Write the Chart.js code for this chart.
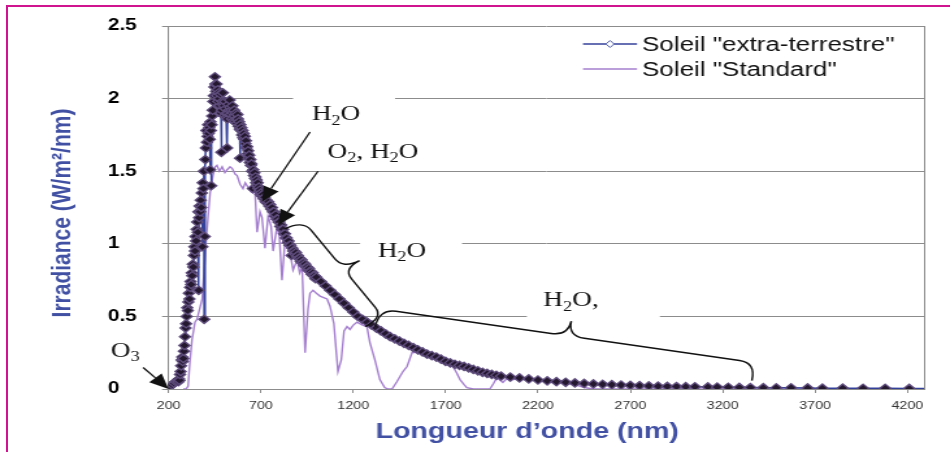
<!DOCTYPE html>
<html>
<head>
<meta charset="utf-8">
<script src="https://cdn.jsdelivr.net/npm/chart.js@4.4.1/dist/chart.umd.min.js"></script>
<style>
  html, body { margin: 0; padding: 0; background: #fff; overflow: hidden; width: 950px; height: 452px; }
  #chart { position: absolute; left: 0; top: 0; transform: scaleX(1.29959); transform-origin: 0 0; }
  #frame { position: absolute; left: 6px; top: 5px; width: 944px; height: 447px;
           border-left: 2px solid #d0138f; border-top: 2px solid #d0138f; }
</style>
</head>
<body>
<canvas id="chart" width="731" height="452"></canvas>
<div id="frame"></div>
<script>
// extraterrestrial spectrum (nm / W/m2/nm)
const etWavelengths = [
  200, 210, 220, 230, 240, 250,
  253, 256, 259, 262, 265, 268, 271, 274, 277, 280,
  283, 286, 289, 292, 295, 298, 301, 304, 307, 310,
  313, 316, 319, 322, 325, 328, 331, 334, 337, 340,
  343, 346, 349, 352, 355, 358, 361, 363, 365, 368,
  371, 374, 377, 380, 383, 385, 388, 391, 393, 396,
  399, 402, 405, 408, 411, 414, 417, 420, 423, 425,
  427, 429, 431, 433, 436, 439, 442, 445, 448, 451,
  454, 457, 460, 463, 466, 469, 472, 475, 478, 481,
  484, 486, 488, 491, 494, 497, 500, 503, 506, 509,
  512, 515, 517, 519, 522, 525, 528, 531, 534, 537,
  540, 543, 546, 549, 552, 555, 558, 561, 564, 567,
  570, 573, 576, 579, 582, 585, 587, 589, 592, 595,
  598, 601, 604, 607, 610, 613, 616, 619, 622, 625,
  628, 631, 634, 637, 640, 643, 646, 649, 652, 656,
  659, 662, 665, 668, 671, 674, 677, 680, 683, 686,
  689, 692, 695, 698, 701, 705, 710, 715, 720, 725,
  730, 735, 740, 745, 750, 755, 760, 765, 770, 775,
  780, 785, 790, 795, 800, 805, 810, 815, 820, 825,
  830, 835, 840, 845, 850, 855, 860, 866, 870, 875,
  880, 885, 890, 895, 900, 905, 910, 915, 920, 925,
  930, 935, 940, 945, 950, 955, 960, 965, 970, 975,
  980, 985, 990, 995,
  1000, 1025, 1050, 1075, 1100, 1125, 1150, 1175, 1200, 1225,
  1250, 1275, 1300, 1325, 1350, 1375, 1400, 1425, 1450, 1475,
  1500, 1525, 1550, 1575, 1600, 1625, 1650, 1675, 1700, 1725,
  1750, 1775, 1800, 1825, 1850, 1875, 1900, 1925, 1950, 1975,
  2000, 2050, 2100, 2150, 2200, 2250, 2300, 2350, 2400, 2450,
  2500, 2550, 2600, 2650, 2700, 2750, 2800, 2850, 2900, 2950,
  3000, 3050, 3120, 3170, 3230, 3290, 3350, 3420, 3490, 3570,
  3660, 3740, 3850, 3960, 4080, 4210, 4350
];
const etIrradiance = [
  0.01, 0.02, 0.03, 0.04, 0.05, 0.06,
  0.05, 0.07, 0.06, 0.10, 0.12, 0.16, 0.20, 0.22, 0.19, 0.21,
  0.26, 0.30, 0.36, 0.42, 0.45, 0.50, 0.56, 0.54, 0.60, 0.66,
  0.62, 0.70, 0.74, 0.72, 0.80, 0.78, 0.86, 0.84, 0.92, 0.98,
  0.95, 1.05, 1.02, 1.10, 1.15, 1.08, 1.22, 0.68, 1.18, 1.26,
  1.22, 1.30, 1.25, 1.35, 0.98, 1.42, 1.38, 1.50, 0.48, 1.05,
  1.58, 1.66, 1.78, 1.70, 1.74, 1.82, 1.76, 1.80, 1.72, 1.51,
  1.84, 1.78, 1.40, 1.82, 1.88, 1.92, 1.98, 2.02, 2.08, 2.15,
  2.10, 2.05, 2.10, 2.02, 2.06, 1.98, 2.04, 2.00, 1.95, 2.03,
  1.90, 1.63, 1.92, 1.98, 2.04, 1.96, 1.95, 1.88, 1.98, 1.93,
  1.87, 1.90, 1.66, 1.86, 1.90, 1.96, 1.92, 1.99, 1.94, 1.89,
  1.92, 1.86, 1.95, 1.90, 1.85, 1.92, 1.88, 1.84, 1.90, 1.86,
  1.83, 1.89, 1.86, 1.81, 1.84, 1.79, 1.59, 1.82, 1.78, 1.80,
  1.75, 1.78, 1.73, 1.76, 1.72, 1.74, 1.69, 1.71, 1.66, 1.67,
  1.62, 1.64, 1.59, 1.61, 1.56, 1.58, 1.54, 1.55, 1.50, 1.38,
  1.51, 1.47, 1.49, 1.45, 1.46, 1.42, 1.44, 1.40, 1.42, 1.38,
  1.39, 1.36, 1.37, 1.34, 1.35, 1.33, 1.34, 1.31, 1.32, 1.29,
  1.30, 1.28, 1.29, 1.26, 1.27, 1.24, 1.25, 1.22, 1.22, 1.19,
  1.20, 1.17, 1.17, 1.15, 1.15, 1.12, 1.13, 1.10, 1.10, 1.07,
  1.07, 1.04, 1.04, 1.01, 1.02, 0.99, 0.99, 0.92, 0.97, 0.95,
  0.95, 0.93, 0.94, 0.91, 0.92, 0.90, 0.90, 0.88, 0.89, 0.87,
  0.87, 0.85, 0.86, 0.84, 0.84, 0.82, 0.83, 0.81, 0.81, 0.79,
  0.80, 0.78, 0.78, 0.76,
  0.77, 0.74, 0.71, 0.68, 0.65, 0.62, 0.59, 0.56, 0.53, 0.50,
  0.48, 0.46, 0.44, 0.42, 0.40, 0.38, 0.36, 0.345, 0.33, 0.315,
  0.30, 0.285, 0.27, 0.255, 0.24, 0.23, 0.22, 0.205, 0.19, 0.18,
  0.17, 0.162, 0.155, 0.145, 0.135, 0.125, 0.115, 0.107, 0.10, 0.094,
  0.088, 0.082, 0.076, 0.069, 0.062, 0.056, 0.050, 0.046, 0.042, 0.038,
  0.035, 0.032, 0.030, 0.027, 0.025, 0.023, 0.021, 0.019, 0.018, 0.017,
  0.016, 0.015, 0.014, 0.013, 0.012, 0.011, 0.010, 0.009, 0.008, 0.008,
  0.007, 0.006, 0.006, 0.005, 0.005, 0.004, 0.004
];

// ground level "standard" spectrum
const stdWavelengths = [
  280, 295, 306, 315, 327, 343, 354, 368, 382, 395,
  405, 414, 425, 440, 452, 462, 475, 490, 505, 517,
  533, 544, 560, 571, 587, 603, 615, 630, 645, 657,
  668, 679, 695, 706, 722, 739, 755, 766, 787, 800,
  814, 831, 847, 860, 874, 896, 910, 923, 939, 955,
  966, 982, 1000, 1020, 1040, 1058, 1074, 1095, 1117, 1135,
  1150, 1166, 1182, 1200, 1220, 1250, 1274, 1290, 1317, 1344,
  1370, 1388, 1410, 1436, 1469, 1491, 1518, 1550, 1575, 1600,
  1625, 1650, 1675, 1700, 1720, 1740, 1760, 1778, 1800, 1815,
  1850, 1900, 1940, 1960, 1978, 1995, 2010, 2030, 2064, 2100,
  2150, 2200, 2250, 2300, 2350, 2400, 2450, 2500, 3000, 4000
];
const stdIrradiance = [
  0, 0, 0.02, 0.18, 0.34, 0.46, 0.48, 0.55, 0.62, 0.86,
  1.05, 1.19, 1.35, 1.47, 1.53, 1.54, 1.50, 1.53, 1.49, 1.51,
  1.53, 1.52, 1.48, 1.47, 1.41, 1.38, 1.42, 1.39, 1.36, 1.35,
  1.36, 1.08, 1.22, 1.18, 0.97, 1.19, 1.12, 0.95, 1.12, 1.05,
  0.75, 1.03, 0.98, 0.92, 0.82, 0.89, 0.80, 0.84, 0.25, 0.55,
  0.66, 0.68, 0.66, 0.64, 0.63, 0.62, 0.57, 0.45, 0.12, 0.20,
  0.40, 0.43, 0.41, 0.44, 0.46, 0.44, 0.43, 0.32, 0.20, 0.065,
  0.01, 0, 0, 0.05, 0.12, 0.155, 0.25, 0.255, 0.24, 0.23,
  0.22, 0.21, 0.195, 0.18, 0.17, 0.155, 0.11, 0.065, 0.03, 0.01,
  0, 0, 0, 0.04, 0.08, 0.06, 0.045, 0.07, 0.065, 0.07,
  0.065, 0.06, 0.055, 0.05, 0.04, 0.03, 0.01, 0, 0, 0
];

const seriesLabels = ['Soleil "extra-terrestre"', 'Soleil "Standard"'];
const xTickValues = [200, 700, 1200, 1700, 2200, 2700, 3200, 3700, 4200];
const yTickStep = 0.5;

// absorption notes, placed in data units
const notes = [
  { text: 'H2O', x: 1107, y: 1.90 },
  { text: 'O2, H2O', x: 1307, y: 1.64 },
  { text: 'H2O', x: 1464, y: 0.96 },
  { text: 'H2O,', x: 2379, y: 0.62 },
  { text: 'O3', x: -35, y: 0.27 }
];
const noteBoxes = [
  { x0: 874, x1: 1426, y0: 2.04, y1: 1.80 },
  { x0: 1237, x1: 1789, y0: 1.04, y1: 0.88 },
  { x0: 2140, x1: 2860, y0: 0.70, y1: 0.48 }
];
const arrows = [
  { from: [966, 1.77], to: [706, 1.29] },
  { from: [1009, 1.50], to: [793, 1.13] },
  { from: [62, 0.148], to: [200, 0] }
];
const braces = [
  { from: [825, 1.10], to: [1264, 0.43], depth: 32, body: 17, curl: 12 },
  { from: [1318, 0.43], to: [3358, 0.058], depth: 33, body: 18, curl: 13 }
];

const SANS = '"Liberation Sans", Arial, sans-serif';
const SERIF = '"Liberation Serif", "Times New Roman", serif';
const gridColor = '#8c8c8c';
const titleColor = '#4150a3';

Chart.defaults.font.family = SANS;

function toPx(chart, p) {
  return [chart.scales.x.getPixelForValue(p[0]), chart.scales.y.getPixelForValue(p[1])];
}

function drawFormula(ctx, text, cx, cy, size) {
  const parts = text.split(/(\d)/).filter(s => s !== '');
  const big = size + 'px ' + SERIF;
  const small = Math.round(size * 0.66) + 'px ' + SERIF;
  let total = 0;
  const widths = parts.map(s => {
    ctx.font = /^\d$/.test(s) ? small : big;
    const w = ctx.measureText(s).width;
    total += w;
    return w;
  });
  let x = cx - total / 2;
  const base = cy + size * 0.33;
  ctx.textAlign = 'left';
  ctx.textBaseline = 'alphabetic';
  parts.forEach((s, i) => {
    const sub = /^\d$/.test(s);
    ctx.font = sub ? small : big;
    ctx.fillText(s, x, sub ? base + size * 0.22 : base);
    x += widths[i];
  });
}

function drawArrow(ctx, a, b) {
  const ang = Math.atan2(b[1] - a[1], b[0] - a[0]);
  const hl = 15, hw = 6.5;
  const bx = b[0] - hl * Math.cos(ang), by = b[1] - hl * Math.sin(ang);
  ctx.beginPath();
  ctx.moveTo(a[0], a[1]);
  ctx.lineTo(bx, by);
  ctx.stroke();
  ctx.beginPath();
  ctx.moveTo(b[0], b[1]);
  ctx.lineTo(bx + hw * Math.sin(ang), by - hw * Math.cos(ang));
  ctx.lineTo(bx - hw * Math.sin(ang), by + hw * Math.cos(ang));
  ctx.closePath();
  ctx.fill();
}

function drawBrace(ctx, p1, p2, depth, body, curl) {
  const dx = p2[0] - p1[0], dy = p2[1] - p1[1];
  const len = Math.hypot(dx, dy);
  const ux = dx / len, uy = dy / len;
  let nx = uy, ny = -ux;
  if (ny > 0) { nx = -nx; ny = -ny; }   // tip points upward
  const mx = (p1[0] + p2[0]) / 2, my = (p1[1] + p2[1]) / 2;
  const pt = (bx, by, a, n) => [bx + ux * a + nx * n, by + uy * a + ny * n];
  const c1 = pt(p1[0], p1[1], 0, body), a1 = pt(p1[0], p1[1], curl, body);
  const b1 = pt(mx, my, -curl, body), cm = pt(mx, my, 0, body), tip = pt(mx, my, 0, depth);
  const b2 = pt(mx, my, curl, body), a2 = pt(p2[0], p2[1], -curl, body), c2 = pt(p2[0], p2[1], 0, body);
  ctx.beginPath();
  ctx.moveTo(p1[0], p1[1]);
  ctx.quadraticCurveTo(c1[0], c1[1], a1[0], a1[1]);
  ctx.lineTo(b1[0], b1[1]);
  ctx.quadraticCurveTo(cm[0], cm[1], tip[0], tip[1]);
  ctx.quadraticCurveTo(cm[0], cm[1], b2[0], b2[1]);
  ctx.lineTo(a2[0], a2[1]);
  ctx.quadraticCurveTo(c2[0], c2[1], p2[0], p2[1]);
  ctx.stroke();
}

const decor = {
  id: 'decor',
  beforeDatasetsDraw(chart) {
    const { ctx, chartArea: a } = chart;
    ctx.save();
    // right frame of the plot
    ctx.strokeStyle = gridColor;
    ctx.lineWidth = 1;
    const rx = Math.round(a.right) + 0.5;
    ctx.beginPath();
    ctx.moveTo(rx, a.top);
    ctx.lineTo(rx, a.bottom);
    ctx.stroke();
    // white backgrounds behind the notes
    ctx.fillStyle = '#fff';
    noteBoxes.forEach(b => {
      const p0 = toPx(chart, [b.x0, b.y0]), p1 = toPx(chart, [b.x1, b.y1]);
      ctx.fillRect(p0[0], p0[1], p1[0] - p0[0], p1[1] - p0[1]);
    });
    ctx.restore();
  },
  afterDatasetsDraw(chart) {
    const { ctx } = chart;
    ctx.save();
    ctx.strokeStyle = '#111';
    ctx.fillStyle = '#111';
    ctx.lineWidth = 1.3;
    arrows.forEach(ar => drawArrow(ctx, toPx(chart, ar.from), toPx(chart, ar.to)));
    ctx.lineWidth = 1.4;
    braces.forEach(b => drawBrace(ctx, toPx(chart, b.from), toPx(chart, b.to), b.depth, b.body, b.curl));
    notes.forEach(n => {
      const p = toPx(chart, [n.x, n.y]);
      drawFormula(ctx, n.text, p[0], p[1], 21);
    });
    ctx.restore();
  },
  afterDraw(chart) {
    const { ctx, chartArea: a } = chart;
    ctx.save();
    // axis titles
    ctx.fillStyle = titleColor;
    ctx.textAlign = 'center';
    ctx.textBaseline = 'middle';
    ctx.font = 'bold 22px ' + SANS;
    ctx.fillText('Longueur d\u2019onde (nm)', a.left + 276, 432);
    ctx.translate(48, 213);
    ctx.rotate(-Math.PI / 2);
    ctx.font = 'bold 21px ' + SANS;
    ctx.fillText('Irradiance (W/m\u00b2/nm)', 0, 0);
    ctx.restore();

    // legend in the upper right corner
    ctx.save();
    chart.data.datasets.forEach((ds, i) => {
      const y = 44 + i * 25;
      ctx.strokeStyle = ds.borderColor;
      ctx.lineWidth = 1.3;
      ctx.beginPath();
      ctx.moveTo(448.6, y);
      ctx.lineTo(490.2, y);
      ctx.stroke();
      if (ds.pointRadius > 0) {
        ctx.fillStyle = '#fff';
        ctx.strokeStyle = '#5563b0';
        ctx.lineWidth = 1;
        ctx.beginPath();
        ctx.moveTo(469.4, y - 3.5);
        ctx.lineTo(472.6, y);
        ctx.lineTo(469.4, y + 3.5);
        ctx.lineTo(466.2, y);
        ctx.closePath();
        ctx.fill();
        ctx.stroke();
      }
      ctx.fillStyle = '#111';
      ctx.font = '20px ' + SANS;
      ctx.textAlign = 'left';
      ctx.textBaseline = 'middle';
      ctx.fillText(ds.label, 494, y + 1);
    });
    ctx.restore();
  }
};

new Chart(document.getElementById('chart'), {
  type: 'scatter',
  data: {
    datasets: [
      {
        label: seriesLabels[0],
        data: etWavelengths.map((w, i) => ({ x: w, y: etIrradiance[i] })),
        showLine: true,
        borderColor: '#33409a',
        borderWidth: 1.5,
        pointStyle: 'rectRot',
        pointRadius: 4.2,
        pointBackgroundColor: '#24182f',
        pointBorderColor: '#5f4d7d',
        pointBorderWidth: 1.3
      },
      {
        label: seriesLabels[1],
        data: stdWavelengths.map((w, i) => ({ x: w, y: stdIrradiance[i] })),
        showLine: true,
        borderColor: '#a57fcf',
        borderWidth: 1.4,
        pointRadius: 0
      }
    ]
  },
  options: {
    responsive: false,
    animation: false,
    devicePixelRatio: 1,
    layout: { padding: { left: 83, right: 20, top: 26, bottom: 0 } },
    plugins: {
      legend: { display: false },
      tooltip: { enabled: false },
      title: { display: false }
    },
    scales: {
      x: {
        type: 'linear',
        min: 200,
        max: 4290,
        afterBuildTicks: s => { s.ticks = xTickValues.map(v => ({ value: v })); },
        afterFit: s => { s.height = 63; },
        grid: { display: true, drawOnChartArea: false, drawTicks: true, tickLength: 4, color: gridColor },
        border: { display: true, color: gridColor },
        ticks: {
          padding: 6,
          color: '#333',
          font: { size: 11 },
          maxRotation: 0,
          autoSkip: false,
          callback: v => String(v)
        }
      },
      y: {
        min: 0,
        max: 2.5,
        afterFit: s => { s.width = 46.7; },
        grid: { color: gridColor, tickLength: 5 },
        border: { display: true, color: gridColor },
        ticks: {
          stepSize: yTickStep,
          crossAlign: 'far',
          color: '#000',
          font: { size: 16, weight: 'bold' },
          callback: v => String(v)
        }
      }
    }
  },
  plugins: [decor]
});
</script>
</body>
</html>
